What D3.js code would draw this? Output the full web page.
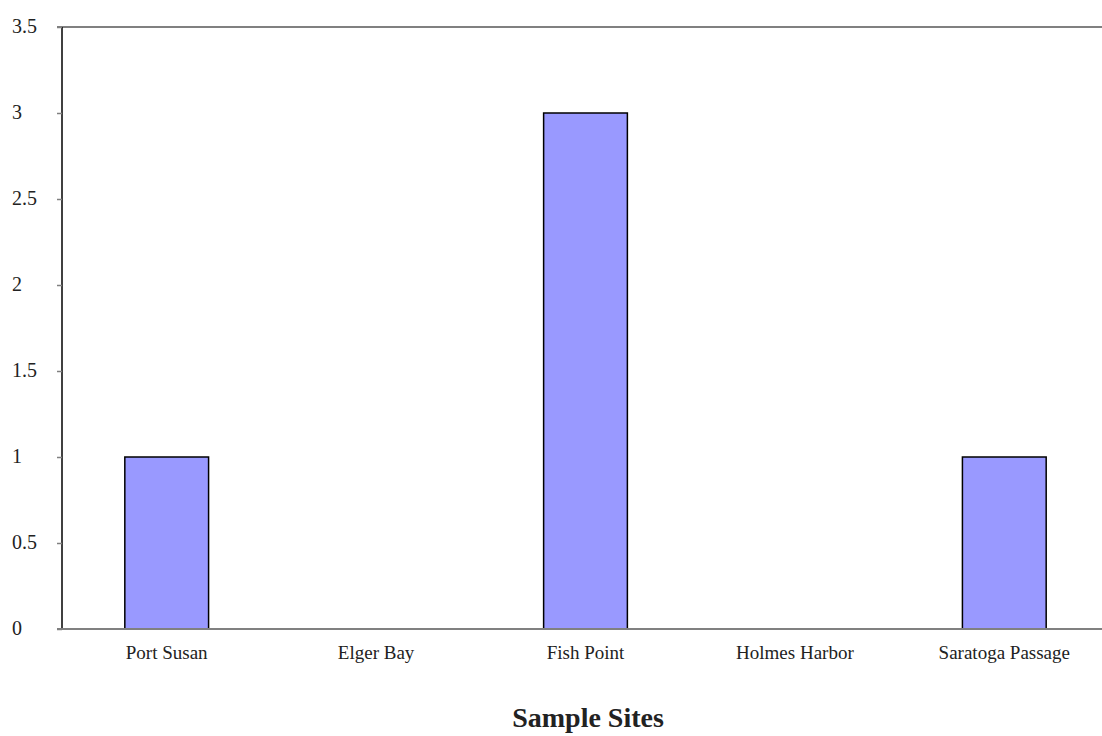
<!DOCTYPE html>
<html>
<head>
<meta charset="utf-8">
<script src="https://cdn.jsdelivr.net/npm/d3@7"></script>
<style>
  body { margin: 0; background: #fff; }
  svg { display: block; font-family: "Liberation Serif", "DejaVu Serif", serif; }
</style>
</head>
<body>
<svg id="chart"></svg>
<script>
// sample sites and counts
const sites = ['Port Susan', 'Elger Bay', 'Fish Point', 'Holmes Harbor', 'Saratoga Passage']
const counts = [1, 0, 3, 0, 1]
const yTicks = [0, 0.5, 1, 1.5, 2, 2.5, 3, 3.5]

const width = 1102
const height = 736
const margin = {top: 27, right: -7, bottom: 107, left: 62}

const svg = d3.select('#chart')
  .attr('width', width)
  .attr('height', height)

// x scale runs a bit past the right edge, like the original
const x = d3.scaleBand()
  .domain(sites)
  .range([margin.left, width - margin.right])
  .paddingInner(0.6)
  .paddingOuter(0.3)

const y = d3.scaleLinear()
  .domain([0, 3.5])
  .range([height - margin.bottom, margin.top])

// top border of plot area
svg.append('line')
  .attr('x1', margin.left - 5)
  .attr('x2', width)
  .attr('y1', y(3.5))
  .attr('y2', y(3.5))
  .attr('stroke', '#808080')
  .attr('stroke-width', 2)

// y axis
const yAxis = svg.append('g')
  .attr('transform', `translate(${margin.left},0)`)
  .call(d3.axisLeft(y).tickValues(yTicks).tickSize(5).tickFormat(d3.format('')))

yAxis.select('.domain')
  .attr('stroke', '#000')
  .attr('stroke-width', 1.5)
  .attr('d', `M0,${y(3.5)}V${y(0)}`)

yAxis.selectAll('.tick line')
  .attr('stroke', '#808080')
  .attr('stroke-width', 1.5)

yAxis.selectAll('.tick text')
  .attr('x', 12 - margin.left)
  .attr('dy', '0.25em')
  .attr('text-anchor', 'start')
  .attr('fill', '#222')
  .style('font-family', '"Liberation Serif", serif')
  .style('font-size', '20px')

// bars
svg.append('g')
  .selectAll('rect')
  .data(counts)
  .enter()
  .append('rect')
  .attr('x', (d, i) => x(sites[i]))
  .attr('width', x.bandwidth())
  .attr('y', d => y(d))
  .attr('height', d => y(0) - y(d))
  .attr('fill', '#9999ff')
  .attr('stroke', '#000')
  .attr('stroke-width', 1.5)
  .style('display', d => d > 0 ? null : 'none')

// bottom axis line
svg.append('line')
  .attr('x1', margin.left - 5)
  .attr('x2', width)
  .attr('y1', y(0))
  .attr('y2', y(0))
  .attr('stroke', '#808080')
  .attr('stroke-width', 2)

// category labels
svg.append('g')
  .selectAll('text')
  .data(sites)
  .enter()
  .append('text')
  .attr('x', d => x(d) + x.bandwidth() / 2)
  .attr('y', y(0) + 30)
  .attr('text-anchor', 'middle')
  .attr('fill', '#222')
  .style('font-size', '19px')
  .text(d => d)

// x axis title
svg.append('text')
  .attr('x', 588)
  .attr('y', 727)
  .attr('text-anchor', 'middle')
  .attr('fill', '#222')
  .style('font-size', '28px')
  .style('font-weight', 'bold')
  .text('Sample Sites')
</script>
</body>
</html>
